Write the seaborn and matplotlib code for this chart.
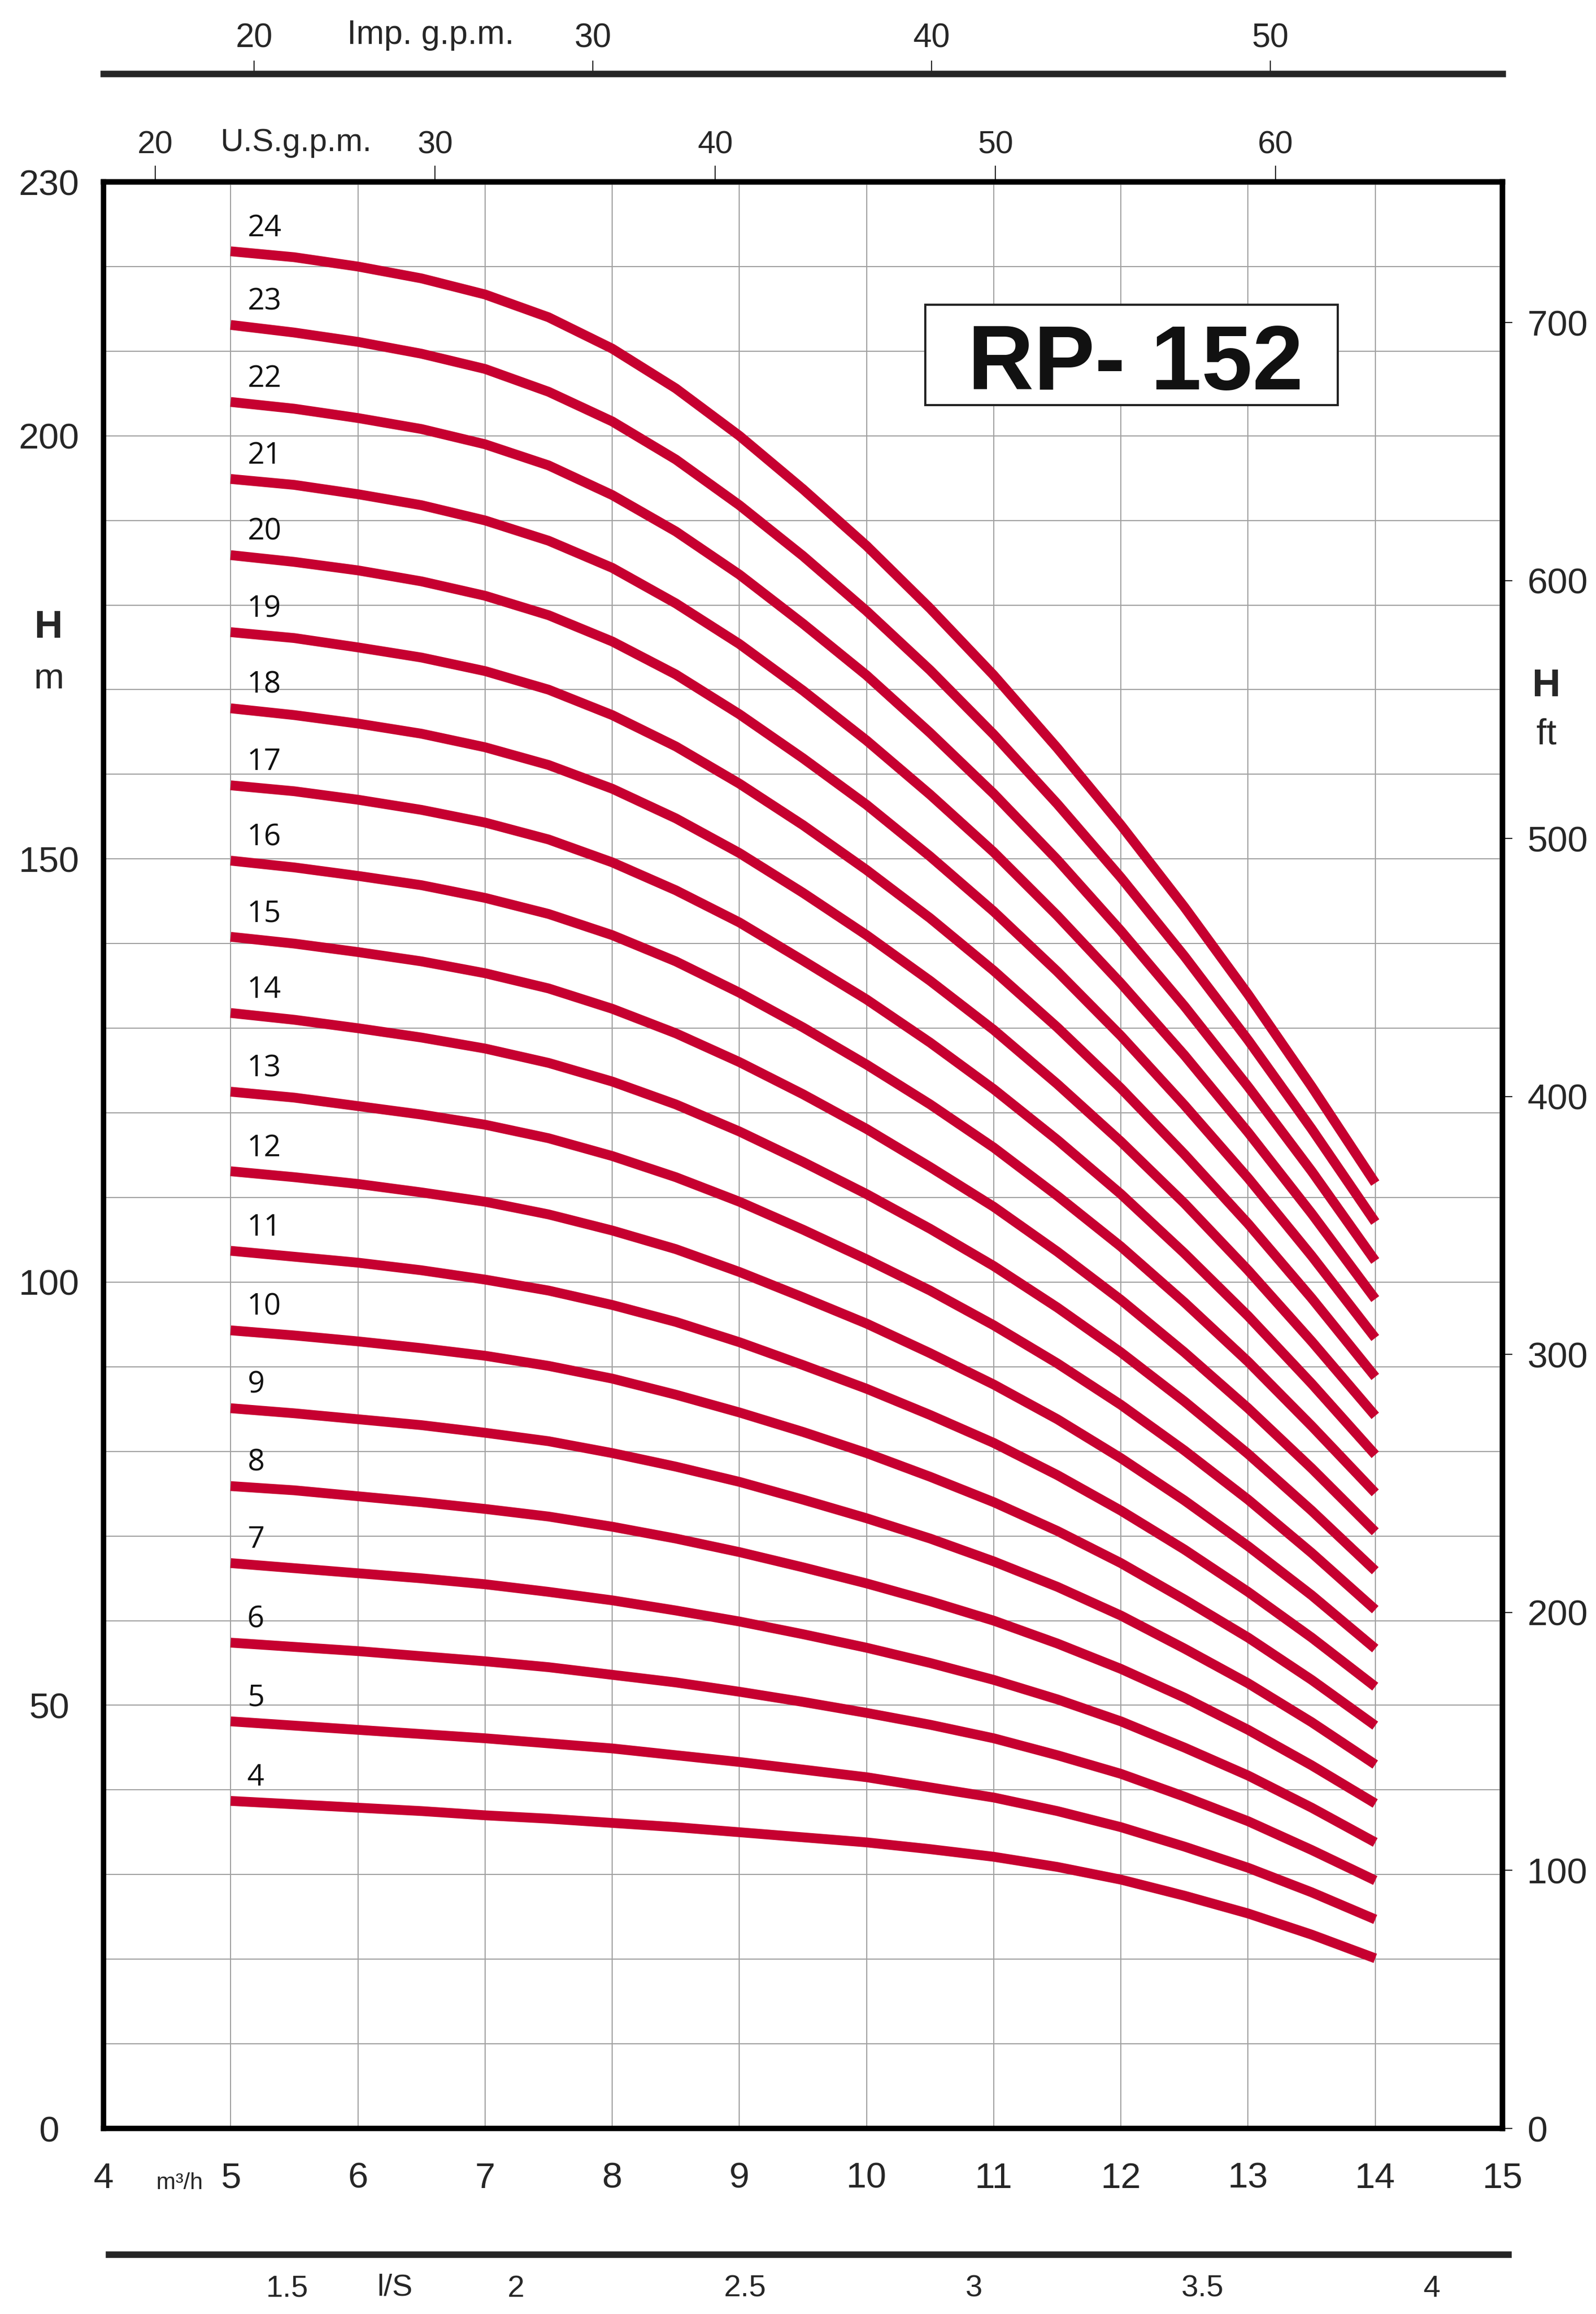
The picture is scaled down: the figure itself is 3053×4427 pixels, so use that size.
import matplotlib
matplotlib.use('Agg')
import matplotlib.pyplot as plt
from matplotlib.ticker import FuncFormatter
from matplotlib.patches import Rectangle
import pandas as pd
import seaborn as sns

# ------------------------------------------------------------
# data (head in m vs flow m3/h)
# ------------------------------------------------------------
flow_m3h = [5, 5.5, 6, 6.5, 7, 7.5, 8, 8.5, 9, 9.5,
            10, 10.5, 11, 11.5, 12, 12.5, 13, 13.5, 14]

head_04 = [38.7, 38.3, 37.9, 37.5, 37.0, 36.6, 36.1, 35.6, 35.0, 34.4,
           33.8, 33.0, 32.1, 30.9, 29.4, 27.5, 25.4, 22.9, 20.1]
head_05 = [48.1, 47.6, 47.1, 46.6, 46.1, 45.5, 44.9, 44.1, 43.3, 42.4,
           41.5, 40.3, 39.1, 37.5, 35.6, 33.3, 30.8, 27.9, 24.7]
head_06 = [57.4, 56.9, 56.4, 55.8, 55.2, 54.5, 53.6, 52.7, 51.6, 50.4,
           49.1, 47.7, 46.1, 44.1, 41.9, 39.2, 36.3, 32.9, 29.3]
head_07 = [66.8, 66.2, 65.6, 65.0, 64.3, 63.4, 62.4, 61.2, 59.9, 58.4,
           56.8, 55.0, 53.0, 50.7, 48.1, 45.0, 41.7, 37.9, 33.8]
head_08 = [75.9, 75.4, 74.7, 74.0, 73.2, 72.3, 71.1, 69.7, 68.1, 66.3,
           64.4, 62.3, 60.0, 57.3, 54.3, 50.9, 47.1, 42.9, 38.4]
head_09 = [85.1, 84.5, 83.8, 83.1, 82.2, 81.2, 79.8, 78.2, 76.4, 74.3,
           72.1, 69.7, 67.0, 64.0, 60.6, 56.7, 52.6, 48.0, 43.0]
head_10 = [94.3, 93.7, 93.0, 92.2, 91.3, 90.1, 88.6, 86.7, 84.6, 82.3,
           79.8, 77.0, 74.0, 70.6, 66.8, 62.5, 58.0, 53.0, 47.6]
head_11 = [103.7, 103.0, 102.3, 101.4, 100.3, 99.0, 97.3, 95.3, 92.9, 90.2,
           87.4, 84.3, 81.0, 77.2, 73.0, 68.4, 63.4, 58.0, 52.2]
head_12 = [113.1, 112.4, 111.6, 110.6, 109.5, 108.0, 106.1, 103.9, 101.2, 98.2,
           95.1, 91.6, 87.9, 83.8, 79.2, 74.2, 68.8, 63.0, 56.7]
head_13 = [122.5, 121.8, 120.8, 119.8, 118.6, 117.0, 114.9, 112.4, 109.5, 106.2,
           102.7, 99.0, 94.9, 90.4, 85.5, 80.1, 74.3, 68.0, 61.3]
head_14 = [131.8, 131.0, 130.0, 128.9, 127.6, 125.9, 123.7, 121.0, 117.8, 114.2,
           110.4, 106.3, 101.9, 97.0, 91.7, 85.9, 79.7, 73.0, 65.9]
head_15 = [140.8, 140.0, 139.0, 137.9, 136.5, 134.7, 132.3, 129.4, 126.0, 122.2,
           118.1, 113.6, 108.9, 103.6, 97.9, 91.7, 85.1, 78.0, 70.5]
head_16 = [149.8, 149.0, 148.0, 146.9, 145.4, 143.5, 141.0, 137.9, 134.2, 130.1,
           125.7, 121.0, 115.9, 110.2, 104.2, 97.6, 90.6, 83.0, 75.1]
head_17 = [158.7, 158.0, 157.0, 155.8, 154.3, 152.3, 149.6, 146.3, 142.5, 138.0,
           133.4, 128.3, 122.8, 116.8, 110.4, 103.4, 96.0, 88.0, 79.6]
head_18 = [167.8, 167.0, 166.0, 164.8, 163.2, 161.1, 158.3, 154.8, 150.7, 146.0,
           141.0, 135.6, 129.8, 123.4, 116.6, 109.3, 101.4, 93.0, 84.2]
head_19 = [176.8, 176.1, 175.0, 173.8, 172.2, 170.0, 167.0, 163.3, 158.9, 154.0,
           148.7, 143.0, 136.8, 130.1, 122.9, 115.1, 106.9, 98.1, 88.8]
head_20 = [185.9, 185.1, 184.1, 182.8, 181.1, 178.8, 175.7, 171.8, 167.1, 161.9,
           156.4, 150.3, 143.8, 136.7, 129.1, 120.9, 112.3, 103.1, 93.4]
head_21 = [194.9, 194.2, 193.1, 191.8, 190.0, 187.6, 184.4, 180.2, 175.4, 169.9,
           164.0, 157.6, 150.8, 143.3, 135.3, 126.8, 117.7, 108.1, 98.0]
head_22 = [204.0, 203.2, 202.1, 200.8, 199.0, 196.5, 193.0, 188.7, 183.6, 177.8,
           171.7, 164.9, 157.7, 149.9, 141.5, 132.6, 123.1, 113.1, 102.5]
head_23 = [213.1, 212.2, 211.1, 209.7, 207.9, 205.2, 201.7, 197.2, 191.8, 185.8,
           179.3, 172.3, 164.7, 156.5, 147.8, 138.5, 128.6, 118.1, 107.1]
head_24 = [221.8, 221.1, 220.0, 218.6, 216.7, 214.0, 210.3, 205.6, 200.0, 193.7,
           187.0, 179.6, 171.7, 163.1, 154.0, 144.3, 134.0, 123.1, 111.7]

stages = list(range(4, 25))
heads = [head_04, head_05, head_06, head_07, head_08, head_09, head_10,
         head_11, head_12, head_13, head_14, head_15, head_16, head_17,
         head_18, head_19, head_20, head_21, head_22, head_23, head_24]

# axis scales as drawn on the chart
US_GPM_PER_M3H = 4.54
IMP_SLOPE, IMP_OFFSET = 3.754, 0.54
M3H_PER_LS = 3.6
FT_PER_M = 3.2808

m3h_ticks = list(range(4, 16))
m_ticks = list(range(0, 231, 10))
m_labels = [0, 50, 100, 150, 200, 230]
ft_ticks = [0, 100, 200, 300, 400, 500, 600, 700]
us_gpm_ticks = [20, 30, 40, 50, 60]
imp_gpm_ticks = [20, 30, 40, 50]
ls_ticks = [1.5, 2, 2.5, 3, 3.5, 4]

RED = '#C60030'
GRID = '#a0a0a0'

rows = []
for stage, head in zip(stages, heads):
    for q, h in zip(flow_m3h, head):
        rows.append((stage, q, h))
df = pd.DataFrame(rows, columns=['stage', 'Q', 'H'])

# ------------------------------------------------------------
# style
# ------------------------------------------------------------
sns.set_style('white')
plt.rcParams['font.family'] = ['Liberation Sans Narrow', 'Liberation Sans', 'DejaVu Sans']
LABEL_FONT = ['Open Sans', 'DejaVu Sans']

W, H = 3053, 4427
fig = plt.figure(figsize=(W / 100, H / 100), dpi=100)

ax_left, ax_right = 198 / W, 2874 / W
ax_bottom, ax_top = 1 - 4072 / H, 1 - 348 / H
ax = fig.add_axes([ax_left, ax_bottom, ax_right - ax_left, ax_top - ax_bottom])

sns.lineplot(data=df, x='Q', y='H', units='stage', estimator=None,
             color=RED, lw=13.5, solid_capstyle='butt', solid_joinstyle='round',
             legend=False, ax=ax, zorder=3)

ax.set_xlim(4, 15)
ax.set_ylim(0, 230)
ax.set_xticks(m3h_ticks)
ax.set_yticks(m_ticks)
ax.yaxis.set_major_formatter(
    FuncFormatter(lambda v, p: f'{v:g}' if round(v) in m_labels else ''))
ax.set_xlabel('')
ax.set_ylabel('')
ax.set_axisbelow(True)
ax.grid(True, color=GRID, lw=1.5)
ax.tick_params(axis='x', length=0, pad=46, labelsize=50)
ax.tick_params(axis='y', length=0, pad=75, labelsize=50)
plt.setp(ax.get_yticklabels(), ha='center')
for s in ax.spines.values():
    s.set_visible(True)
    s.set_linewidth(7.5)
    s.set_color('black')
    s.set_zorder(6)

# curve stage labels
for stage, head in zip(stages, heads):
    ax.text(5.13, head[0] + 2.7, str(stage), ha='left', va='center',
            fontsize=41, family=LABEL_FONT, color='#111111', zorder=4)

# model box
ax.add_patch(Rectangle((0.5874, 0.8853), 0.2948, 0.0516, transform=ax.transAxes,
                       facecolor='white', edgecolor='#222222', lw=3, zorder=4))
ax.text(0.7377, 0.8934, 'RP- 152', transform=ax.transAxes, ha='center',
        va='baseline', fontsize=126, fontweight='bold',
        family=['Liberation Sans', 'DejaVu Sans'], color='#111111', zorder=5)

# US gpm on top spine
top = ax.secondary_xaxis('top', functions=(lambda q: q * US_GPM_PER_M3H,
                                           lambda g: g / US_GPM_PER_M3H))
top.set_xticks(us_gpm_ticks)
top.tick_params(direction='out', length=22, width=1.6, pad=8, labelsize=44)
top.spines['top'].set_linewidth(7.5)

# feet on right spine
right = ax.secondary_yaxis('right', functions=(lambda m: m * FT_PER_M,
                                               lambda f: f / FT_PER_M))
right.set_yticks(ft_ticks)
right.tick_params(direction='out', length=14, width=1.6, pad=20, labelsize=50)
right.spines['right'].set_linewidth(7.5)

# Imp. gpm scale above
imp_ax = fig.add_axes([ax_left, 1 - 141 / H, ax_right - ax_left, 1e-4])
imp_ax.set_xlim(IMP_SLOPE * 4 + IMP_OFFSET, IMP_SLOPE * 15 + IMP_OFFSET)
imp_ax.set_xticks(imp_gpm_ticks)
imp_ax.set_yticks([])
imp_ax.xaxis.set_ticks_position('top')
imp_ax.tick_params(axis='x', direction='out', length=18, width=1.6, pad=9,
                   labelsize=46)
for s in ['left', 'right', 'bottom']:
    imp_ax.spines[s].set_visible(False)
imp_ax.spines['top'].set_linewidth(9)
imp_ax.patch.set_visible(False)

# l/s scale below
ls_ax = fig.add_axes([208 / W, 1 - 4313 / H, 2677 / W, 1e-4])
ls_ax.set_xlim(4 / M3H_PER_LS, 15 / M3H_PER_LS)
ls_ax.set_xticks(ls_ticks)
ls_ax.xaxis.set_major_formatter(FuncFormatter(lambda v, p: f'{v:g}'))
ls_ax.set_yticks([])
ls_ax.tick_params(axis='x', direction='out', length=22, width=1.6, pad=6,
                  labelsize=42)
for s in ['left', 'right', 'top']:
    ls_ax.spines[s].set_visible(False)
ls_ax.spines['bottom'].set_linewidth(9)
ls_ax.patch.set_visible(False)

# unit labels
fig.text(566 / W, 1 - 274 / H, 'U.S.g.p.m.', ha='center', va='center', fontsize=44)
fig.text(824 / W, 1 - 67 / H, 'Imp. g.p.m.', ha='center', va='center', fontsize=46)
fig.text(344 / W, 1 - 4176 / H, 'm³/h', ha='center', va='center', fontsize=32)
fig.text(755 / W, 1 - 4377 / H, 'l/S', ha='center', va='center', fontsize=42)
fig.text(93 / W, 1 - 1200 / H, 'H', ha='center', va='center', fontsize=54,
         fontweight='bold')
fig.text(93 / W, 1 - 1299 / H, 'm', ha='center', va='center', fontsize=50)
fig.text(2958 / W, 1 - 1313 / H, 'H', ha='center', va='center', fontsize=54,
         fontweight='bold')
fig.text(2958 / W, 1 - 1406 / H, 'ft', ha='center', va='center', fontsize=50)

fig.savefig('out.png', dpi=100, facecolor='white')
